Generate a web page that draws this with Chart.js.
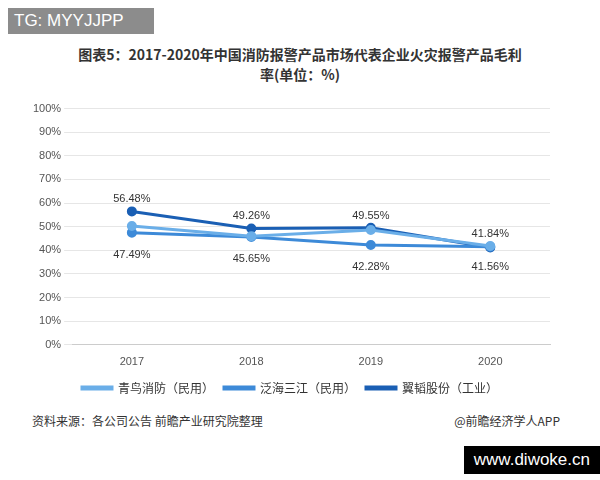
<!DOCTYPE html><html><head><meta charset="utf-8">
<script src="https://cdn.jsdelivr.net/npm/chart.js@4"></script>
<style>
body{margin:0;width:600px;height:480px;background:#fff;font-family:"Noto Sans CJK SC","Noto Sans",sans-serif;position:relative;overflow:hidden}
#tg{position:absolute;left:8px;top:8px;width:140px;height:26px;background:#8c8c8c;color:#fff;font-size:17px;line-height:26px;padding-left:6px;font-family:"Liberation Sans",sans-serif}
#title{position:absolute;top:44px;left:20px;width:560px;text-align:center;font-weight:bold;font-size:14px;line-height:20px;color:#333}
#wrap{position:absolute;left:0;top:99px;width:600px;height:305px}
#src{position:absolute;left:32px;top:412px;font-size:12px;color:#333}
#app{position:absolute;right:40px;top:412px;font-size:12px;color:#333}
#site{position:absolute;right:0;top:446px;background:#000;color:#fff;font-size:17px;padding:4px 10px;font-family:"Liberation Sans",sans-serif}
</style></head><body>
<div id="tg">TG: MYYJJPP</div>
<div id="title">图表5：2017-2020年中国消防报警产品市场代表企业火灾报警产品毛利<br>率(单位：%)</div>
<div id="wrap"><canvas id="c"></canvas></div>
<div id="src">资料来源：各公司公告 前瞻产业研究院整理</div>
<div id="app">@前瞻经济学人APP</div>
<div id="site">www.diwoke.cn</div>
<script>
const categories=["2017","2018","2019","2020"];
const qingniao=[50.3,46.0,48.6,41.84];
const fanhai=[47.49,45.65,42.28,41.56];
const jitao=[56.48,49.26,49.55,41.2];
const names=["青鸟消防（民用）","泛海三江（民用）","翼韬股份（工业）"];
const labelPlugin={id:"lbl",afterDatasetsDraw(ch){const c=ch.ctx;c.save();c.font="11px 'Liberation Sans',sans-serif";c.fillStyle="#333";c.textAlign="center";
 const m1=ch.getDatasetMeta(1),m2=ch.getDatasetMeta(2),m0=ch.getDatasetMeta(0);
 m2.data.forEach((p,i)=>{if(i<3)c.fillText(jitao[i].toFixed(2)+"%",p.x,p.y-12);});
 m1.data.forEach((p,i)=>{c.fillText(fanhai[i].toFixed(2)+"%",p.x,p.y+(i==3?20:22));});
 const p=m0.data[3];c.fillText(qingniao[3].toFixed(2)+"%",p.x,p.y-12);c.restore();}};
const ds=(l,d,col)=>({label:l,data:d,borderColor:col,backgroundColor:col,borderWidth:3,pointRadius:3.5,pointBackgroundColor:col,tension:0});
new Chart(document.getElementById("c"),{type:"line",
data:{labels:categories,datasets:[ds(names[0],qingniao,"#6aaee8"),ds(names[1],fanhai,"#3d8ad8"),ds(names[2],jitao,"#1a5fb4")]},
options:{responsive:true,maintainAspectRatio:false,animation:false,
layout:{padding:{left:30,right:50,top:5,bottom:0}},
plugins:{legend:{position:"bottom",labels:{boxWidth:30,boxHeight:2,font:{size:12,family:"Noto Sans CJK SC"},color:"#333"}},tooltip:{enabled:false}},
scales:{x:{offset:true,grid:{display:false},border:{color:"#ccc"},ticks:{color:"#555",font:{size:11}}},
y:{min:0,max:100,ticks:{stepSize:10,callback:v=>v+"%",color:"#555",font:{size:11}},grid:{color:"#e6e6e6"},border:{display:false}}}},
plugins:[labelPlugin]});
</script></body></html>
